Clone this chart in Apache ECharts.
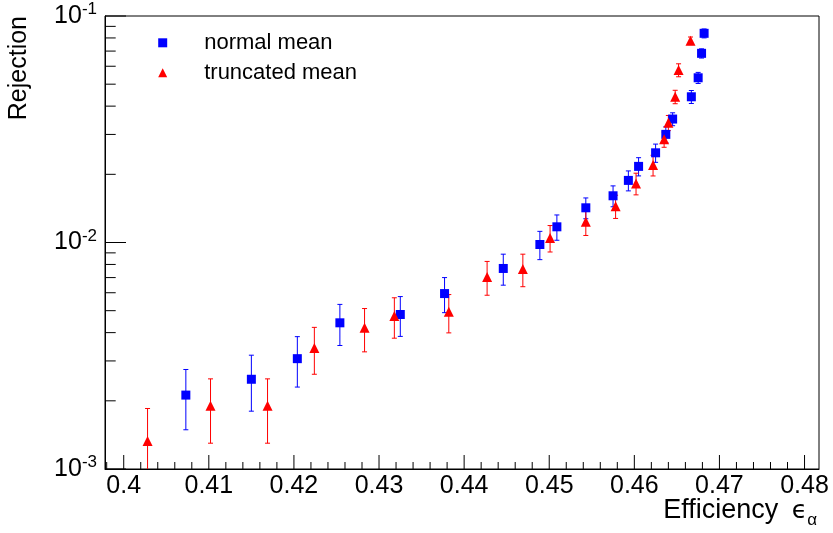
<!DOCTYPE html>
<html><head><meta charset="utf-8">
<script src="https://cdn.jsdelivr.net/npm/echarts@6/dist/echarts.min.js"></script>
<style>html,body{margin:0;padding:0;background:#fff}#c{width:833px;height:533px}</style>
</head><body><div id="c"></div>
<script>
// ---- data ----
const normalX   = [0.4073, 0.4150, 0.4204, 0.4254, 0.4325, 0.4377, 0.4446, 0.4489, 0.4509, 0.4543, 0.4575, 0.4593, 0.4605, 0.4625, 0.4637, 0.4645, 0.4667, 0.4675, 0.4679, 0.4682];
const normalY   = [0.00212, 0.00249, 0.00307, 0.00442, 0.00481, 0.00595, 0.00768, 0.00980, 0.01173, 0.01423, 0.01608, 0.01880, 0.02168, 0.02489, 0.03002, 0.03508, 0.04399, 0.05336, 0.06842, 0.08386];
const normalErr = [0.00063, 0.00069, 0.00077, 0.00091, 0.00096, 0.00105, 0.0012, 0.0014, 0.0015, 0.0015, 0.0017, 0.0019, 0.0020, 0.0023, 0.0024, 0.0023, 0.0029, 0.0030, 0.0032, 0.0038];

const truncX    = [0.4028, 0.4102, 0.4169, 0.4224, 0.4283, 0.4318, 0.4382, 0.4427, 0.4469, 0.4501, 0.4543, 0.4578, 0.4602, 0.4622, 0.4635, 0.4640, 0.4648, 0.4652, 0.4666];
const truncY    = [0.00133, 0.00190, 0.00190, 0.00342, 0.00420, 0.00474, 0.00494, 0.00705, 0.00763, 0.01048, 0.01234, 0.01447, 0.01823, 0.02197, 0.02853, 0.03378, 0.04399, 0.05771, 0.07777];
const truncErr  = [0.00052, 0.00060, 0.00060, 0.00080, 0.00091, 0.00096, 0.00095, 0.0012, 0.00125, 0.0014, 0.0016, 0.0017, 0.0020, 0.0023, 0.0022, 0.0026, 0.0030, 0.0038, 0.0030];

const seriesNames = ['normal mean', 'truncated mean'];

const xMajorTicks = [0.40, 0.41, 0.42, 0.43, 0.44, 0.45, 0.46, 0.47, 0.48];
const xMinorTicks = [0.398, 0.402, 0.404, 0.406, 0.408, 0.412, 0.414, 0.416, 0.418, 0.422, 0.424, 0.426, 0.428,
                     0.432, 0.434, 0.436, 0.438, 0.442, 0.444, 0.446, 0.448, 0.452, 0.454, 0.456, 0.458,
                     0.462, 0.464, 0.466, 0.468, 0.472, 0.474, 0.476, 0.478];
const yMajorTicks = [0.001, 0.01, 0.1];
const yMinorTicks = [0.002, 0.003, 0.004, 0.005, 0.006, 0.007, 0.008, 0.009,
                     0.02, 0.03, 0.04, 0.05, 0.06, 0.07, 0.08, 0.09];

const X_MIN = 0.3978, X_MAX = 0.4817, Y_MIN = 0.001, Y_MAX = 0.1;

const BLUE = '#0000ff', RED = '#ff0000';
const FONT = "'Liberation Sans', Arial, Helvetica, sans-serif";

function errorBarSeries(xs, ys, es, color) {
  return {
    type: 'custom', silent: true, z: 2,
    data: xs.map((x, i) => [x, ys[i], es[i]]),
    encode: { x: 0, y: 1 },
    renderItem: function (params, api) {
      const x = api.value(0), y = api.value(1), e = api.value(2);
      const cs = params.coordSys;
      const top = api.coord([x, y + e]);
      const bot = api.coord([x, y - e]);
      const yTop = cs.y, yBot = cs.y + cs.height;
      const t = Math.max(top[1], yTop), b = Math.min(bot[1], yBot);
      const px = top[0];
      const st = { stroke: color, lineWidth: 1 };
      const children = [{ type: 'line', shape: { x1: px, y1: t, x2: px, y2: b }, style: st }];
      if (top[1] >= yTop) children.push({ type: 'line', shape: { x1: px - 2.5, y1: top[1], x2: px + 2.5, y2: top[1] }, style: st });
      if (bot[1] <= yBot) children.push({ type: 'line', shape: { x1: px - 2.5, y1: bot[1], x2: px + 2.5, y2: bot[1] }, style: st });
      return { type: 'group', children: children };
    }
  };
}

function tickSeries(vals, dim, len) {
  return {
    type: 'custom', silent: true, z: 5,
    data: vals.map(v => dim === 'x' ? [v, Y_MIN] : [X_MIN, v]),
    encode: { x: 0, y: 1 },
    renderItem: function (params, api) {
      const p = api.coord([api.value(0), api.value(1)]);
      const cs = params.coordSys;
      if (dim === 'x') {
        const yb = cs.y + cs.height;
        return { type: 'line', shape: { x1: p[0], y1: yb, x2: p[0], y2: yb - len }, style: { stroke: '#000', lineWidth: 1 } };
      }
      const xl = cs.x;
      return { type: 'line', shape: { x1: xl, y1: p[1], x2: xl + len, y2: p[1] }, style: { stroke: '#000', lineWidth: 1 } };
    }
  };
}

const chart = echarts.init(document.getElementById('c'), null, { renderer: 'canvas' });
chart.setOption({
  animation: false,
  backgroundColor: '#fff',
  textStyle: { fontFamily: FONT, color: '#000' },
  grid: { left: 105, top: 16, width: 714, height: 453, show: true, borderColor: '#000', borderWidth: 1,
          backgroundColor: 'transparent', containLabel: false, outerBoundsMode: 'none' },
  legend: {
    left: 158.2, top: 31.8, padding: 0, orient: 'vertical',
    itemWidth: 9, itemHeight: 9, itemGap: 8,
    data: [{ name: seriesNames[0], icon: 'rect' }, { name: seriesNames[1], icon: 'triangle' }],
    textStyle: { fontSize: 22, lineHeight: 22, color: '#000', fontFamily: FONT, padding: [0, 0, 0, 32] }
  },
  xAxis: {
    type: 'value', min: X_MIN, max: X_MAX,
    axisLine: { show: true, lineStyle: { color: '#000', width: 1 } },
    axisTick: { show: false },
    splitLine: { show: false },
    axisLabel: {
      customValues: xMajorTicks,
      formatter: v => String(parseFloat(v.toFixed(3))),
      fontSize: 25, lineHeight: 25, color: '#000', margin: 5, fontFamily: FONT
    },
    name: 'Efficiency {e|ϵ}{a|α}',
    nameLocation: 'end', nameGap: -2, nameMoveOverlap: false,
    nameTextStyle: {
      fontSize: 27, lineHeight: 36, color: '#000', fontFamily: FONT,
      align: 'right', verticalAlign: 'top', padding: [24, 0, 0, 0],
      rich: {
        e: { fontSize: 25, lineHeight: 36, fontFamily: "'DejaVu Sans', sans-serif", color: '#000', padding: [0, 0, 0, 6] },
        a: { fontSize: 17, lineHeight: 17, verticalAlign: 'bottom', fontFamily: FONT, color: '#000' }
      }
    }
  },
  yAxis: {
    type: 'log', min: Y_MIN, max: Y_MAX, logBase: 10,
    axisLine: { show: true, lineStyle: { color: '#000', width: 1 } },
    axisTick: { show: false },
    splitLine: { show: false },
    minorTick: { show: false },
    axisLabel: {
      margin: 8, color: '#000',
      formatter: function (v) {
        const n = Math.log10(v);
        const r = Math.round(n);
        if (Math.abs(n - r) > 1e-6) return '';
        return '{b|10}{s|' + r + '}';
      },
      rich: {
        b: { fontSize: 25, lineHeight: 30, fontFamily: FONT, color: '#000' },
        s: { fontSize: 17, lineHeight: 17, verticalAlign: 'top', fontFamily: FONT, color: '#000' }
      }
    },
    name: 'Rejection',
    nameLocation: 'end', nameRotate: 90, nameGap: 0, nameMoveOverlap: false,
    nameTextStyle: {
      fontSize: 25, lineHeight: 25, color: '#000', fontFamily: FONT,
      align: 'right', verticalAlign: 'bottom', padding: [0, 0, 73, 0]
    }
  },
  series: [
    errorBarSeries(normalX, normalY, normalErr, BLUE),
    errorBarSeries(truncX, truncY, truncErr, RED),
    {
      name: seriesNames[0], type: 'scatter', z: 3,
      symbol: 'rect', symbolSize: 9,
      itemStyle: { color: BLUE, opacity: 1 },
      data: normalX.map((x, i) => [x, normalY[i]])
    },
    {
      name: seriesNames[1], type: 'scatter', z: 3,
      symbol: 'triangle', symbolSize: 10,
      itemStyle: { color: RED, opacity: 1 },
      data: truncX.map((x, i) => [x, truncY[i]])
    },
    tickSeries(xMajorTicks, 'x', 14),
    tickSeries(xMinorTicks, 'x', 7),
    tickSeries(yMajorTicks, 'y', 21),
    tickSeries(yMinorTicks, 'y', 10.7)
  ]
});
</script>
</body></html>
